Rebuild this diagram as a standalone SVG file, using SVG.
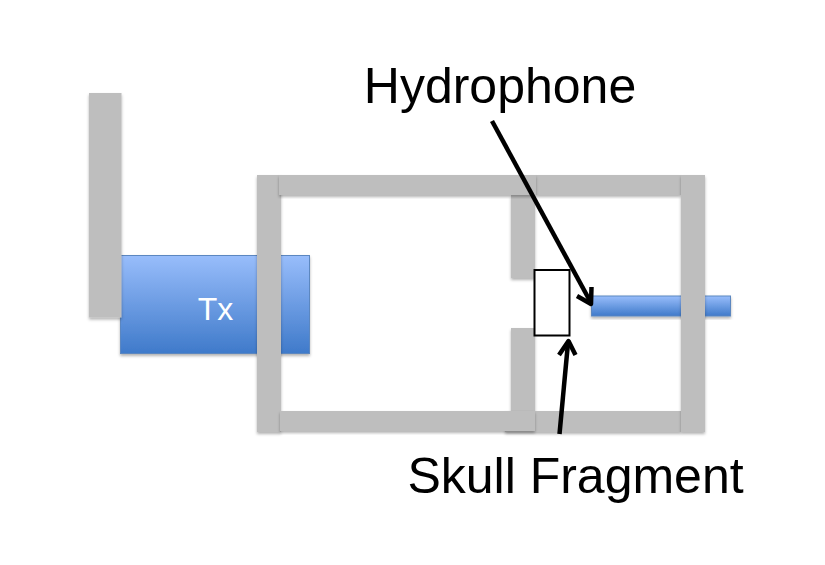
<svg xmlns="http://www.w3.org/2000/svg" width="825" height="565" viewBox="0 0 825 565">
<style>
.g{fill:#bebebe;filter:url(#s)}
.b{stroke:#5b87c0;stroke-width:1;filter:url(#s)}
.a{fill:none;stroke:#000;stroke-width:4.500;stroke-linecap:butt;stroke-linejoin:round}
text{font-family:"Liberation Sans",Arial,sans-serif}
.l{font-size:50px;fill:#000}
</style>
<defs>
<linearGradient id="bg" x1="0" y1="0" x2="0" y2="1"><stop offset="0" stop-color="#98bdfb"/><stop offset="1" stop-color="#3f7aca"/></linearGradient>
<filter id="s" x="-20%" y="-20%" width="140%" height="140%"><feDropShadow dx="0" dy="2" stdDeviation="1.500" flood-color="#000" flood-opacity="0.3"/></filter>
</defs>
<rect width="825" height="565" fill="#fff"/>
<g id="tx"><rect class="b" x="120.500" y="255.500" width="189" height="98" fill="url(#bg)"/><text x="215.500" y="320" font-size="32" fill="#fff" text-anchor="middle">Tx</text></g>
<g id="hydrophone-rod"><rect class="b" x="591.500" y="296" width="139" height="20" fill="url(#bg)"/></g>
<g id="mount"><rect class="g" x="89" y="93" width="32.500" height="224.500"/></g>
<g id="frame">
<rect class="g" x="536" y="175" width="145" height="20"/>
<rect class="g" x="511" y="195" width="24" height="83"/>
<rect class="g" x="511" y="328" width="24" height="84"/>
<rect class="g" x="505" y="411" width="176" height="21"/>
<rect class="g" x="257" y="175" width="24" height="257"/>
<rect class="g" x="279" y="175" width="257" height="20"/>
<rect class="g" x="280" y="411" width="255" height="20"/>
<rect class="g" x="681" y="175" width="24" height="257"/>
</g>
<g id="skull-fragment"><rect x="534.500" y="270" width="35" height="65.500" fill="#fff" stroke="#000" stroke-width="2"/></g>
<g id="connectors">
<path class="a" d="M492 121L590 301"/>
<path class="a" d="M577 296L591 304L591.500 287"/>
<path class="a" d="M559.500 434L568 343"/>
<path class="a" d="M559 355L568.500 341L575.500 355"/>
</g>
<g id="labels">
<text class="l" x="500" y="103" text-anchor="middle">Hydrophone</text>
<text class="l" x="575.500" y="493" text-anchor="middle">Skull Fragment</text>
</g>
</svg>
